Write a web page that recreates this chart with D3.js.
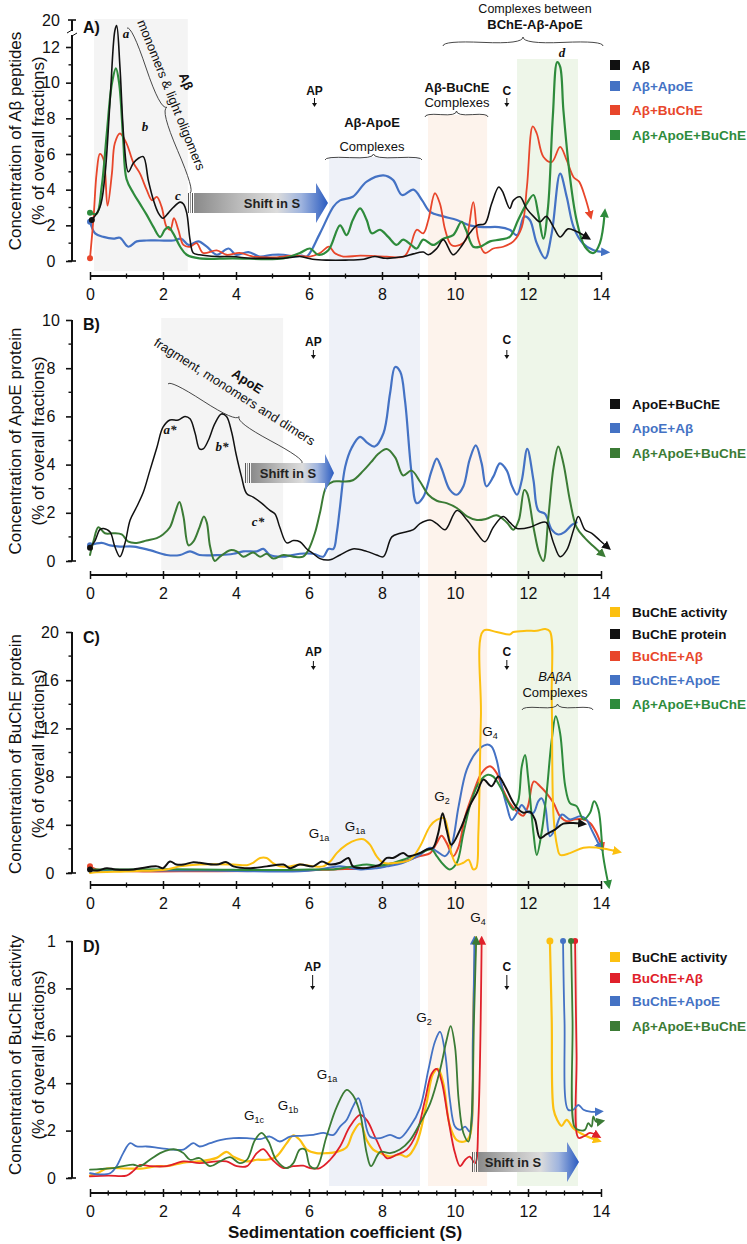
<!DOCTYPE html>
<html><head><meta charset="utf-8">
<script src="https://cdn.jsdelivr.net/npm/d3@7"></script>
<style>body{margin:0;background:#fff}svg{display:block}text{font-family:"Liberation Sans",Arial,sans-serif}</style>
</head><body><svg id="c" width="747" height="1244"></svg>
<script>
// ---------------- DATA ----------------
const xTicks = [0,2,4,6,8,10,12,14];
const aTicks = [0,2,4,6,8,10,12];
const bTicks = [0,2,4,6,8,10];
const cTicks = [0,4,8,12,16,20];
const dTicks = [0,0.2,0.4,0.6,0.8,1];
const dTickLabels = ["0",".2",".4",".6",".8","1"];

// Panel A: concentration of Aβ peptides
const aAbeta = [[0.05,2.3],[0.27,3.0],[0.4,4.6],[0.55,9.0],[0.68,12.9],[0.73,13.2],[0.82,10.9],[0.93,6.8],[1.05,5.0],[1.19,5.5],[1.32,5.75],[1.46,5.85],[1.6,4.5],[1.74,3.4],[1.87,2.7],[2.0,2.4],[2.15,2.7],[2.28,3.0],[2.47,3.3],[2.56,3.2],[2.65,2.7],[2.74,1.2],[2.83,0.45],[3.0,0.35],[3.47,0.25],[3.9,0.25],[4.4,0.15],[4.8,0.15],[5.3,0.15],[5.75,0.25],[6.1,0.1],[6.5,0.05],[7.0,0.05],[7.5,0.1],[7.8,0.25],[8.1,0.15],[8.6,0.25],[8.86,0.4],[9.13,0.5],[9.27,0.35],[9.5,0.7],[9.68,1.2],[9.95,0.35],[10.2,0.9],[10.4,1.55],[10.6,2.0],[10.82,2.1],[11.0,3.2],[11.2,4.15],[11.3,3.9],[11.5,2.95],[11.6,3.4],[11.78,3.6],[11.96,2.95],[12.15,2.5],[12.33,2.2],[12.5,2.5],[12.7,1.9],[12.88,1.35],[13.1,1.8],[13.33,1.65],[13.6,1.35]];
const aAbetaApoE = [[0,2.2],[0.14,1.55],[0.37,1.35],[0.64,1.25],[0.82,1.3],[1.05,0.8],[1.28,1.1],[1.55,1.15],[1.9,1.15],[2.28,1.15],[2.5,1.25],[2.7,0.9],[2.97,1.1],[3.2,0.8],[3.47,0.35],[3.8,0.7],[4.0,0.35],[4.34,0.5],[4.65,0.25],[5.0,0.35],[5.3,0.35],[5.57,0.25],[5.8,0.3],[5.94,0.25],[6.3,1.55],[6.67,3.05],[6.85,3.4],[7.2,3.6],[7.58,4.45],[8.04,4.8],[8.3,4.55],[8.55,3.7],[8.86,4.0],[9.1,3.4],[9.32,2.75],[9.68,2.5],[10.05,2.3],[10.4,2.0],[10.77,1.9],[11.2,1.9],[11.5,1.75],[11.7,1.45],[11.9,2.5],[12.05,2.3],[12.24,1.0],[12.47,0.15],[12.65,1.55],[12.88,4.9],[13.06,3.6],[13.25,1.9],[13.5,1.0],[13.8,0.6],[14.1,0.5]];
const aAbetaBuChE = [[0,0.15],[0.1,2.5],[0.18,4.9],[0.27,6.0],[0.37,5.7],[0.48,3.1],[0.6,4.9],[0.68,6.6],[0.82,7.15],[1.0,6.6],[1.19,5.5],[1.37,4.9],[1.55,4.0],[1.7,3.4],[1.83,3.6],[1.96,3.05],[2.1,1.9],[2.2,1.75],[2.3,2.4],[2.42,1.75],[2.56,0.9],[2.74,0.8],[2.92,1.0],[3.1,0.45],[3.47,0.6],[3.74,0.35],[4.1,0.45],[4.47,0.25],[5.0,0.2],[5.57,0.3],[6.03,0.25],[6.3,0.45],[6.55,0.8],[6.7,0.45],[6.94,0.25],[7.4,0.3],[8.13,0.25],[8.6,0.25],[8.77,0.8],[8.95,1.75],[9.13,1.55],[9.27,2.3],[9.45,3.8],[9.59,3.2],[9.73,1.75],[9.9,0.9],[10.14,0.9],[10.3,1.2],[10.5,3.3],[10.64,1.2],[10.82,0.45],[11.05,0.7],[11.32,0.8],[11.6,1.1],[11.83,1.9],[11.97,4.15],[12.13,7.55],[12.24,7.15],[12.42,5.85],[12.65,5.55],[12.88,6.4],[13.06,5.65],[13.25,4.7],[13.4,4.45],[13.56,3.6],[13.7,2.6]];
const aAll = [[0,2.7],[0.18,2.65],[0.32,4.15],[0.46,7.15],[0.6,9.95],[0.71,10.8],[0.8,9.95],[0.91,6.8],[1.0,4.6],[1.19,3.8],[1.37,3.2],[1.55,2.6],[1.74,1.9],[1.92,1.35],[2.05,1.75],[2.15,1.9],[2.28,1.55],[2.47,0.8],[2.65,0.35],[3.0,0.15],[3.9,0.15],[5.3,0.15],[5.75,0.45],[6.03,0.7],[6.25,0.35],[6.53,0.6],[6.85,2.0],[7.03,1.45],[7.2,2.3],[7.4,2.95],[7.58,2.3],[7.72,1.55],[7.95,1.75],[8.17,1.35],[8.4,0.9],[8.58,1.2],[8.8,0.9],[8.95,0.7],[9.13,1.2],[9.4,0.9],[9.68,1.25],[9.95,1.45],[10.18,2.2],[10.3,1.75],[10.5,0.8],[10.68,0.8],[10.96,1.1],[11.23,1.2],[11.5,1.35],[11.73,2.3],[11.96,3.2],[12.15,3.7],[12.28,2.65],[12.42,1.25],[12.55,3.05],[12.68,8.1],[12.8,11.15],[12.88,10.9],[12.97,8.45],[13.15,4.7],[13.33,2.3],[13.56,0.8],[13.8,0.45],[13.97,1.0],[14.1,2.65]];

// Panel B: concentration of ApoE protein
const bApoEBuChE = [[0,0.55],[0.14,0.85],[0.27,1.3],[0.37,1.35],[0.55,1.2],[0.68,0.6],[0.82,0.18],[0.96,0.75],[1.1,1.7],[1.28,2.25],[1.46,2.85],[1.64,3.75],[1.83,4.7],[2.0,5.55],[2.19,5.85],[2.42,5.85],[2.6,6.0],[2.74,5.9],[2.88,5.3],[3.0,4.65],[3.1,4.65],[3.24,5.0],[3.42,5.7],[3.6,6.1],[3.74,6.0],[3.88,5.35],[4.0,4.45],[4.15,3.5],[4.29,2.8],[4.47,2.65],[4.7,2.4],[4.93,2.1],[5.07,1.95],[5.2,1.4],[5.39,0.75],[5.57,0.85],[5.75,0.8],[5.94,0.5],[6.12,0.3],[6.3,0.1],[6.58,0.05],[6.85,0.25],[7.2,0.5],[7.58,0.4],[7.85,0.25],[8.04,0.18],[8.27,1.0],[8.5,1.15],[8.86,1.3],[9.04,1.55],[9.32,1.7],[9.5,1.55],[9.73,1.3],[10.05,2.1],[10.33,1.7],[10.6,1.15],[10.82,0.8],[11.05,1.4],[11.32,1.85],[11.5,1.6],[11.7,1.35],[12.05,1.4],[12.37,1.6],[12.5,1.6],[12.7,0.75],[12.88,0.18],[13.06,0.45],[13.25,1.3],[13.38,1.85],[13.56,1.3],[13.75,1.15],[13.97,0.85],[14.16,0.6]];
const bApoEAbeta = [[0,0.65],[0.32,0.75],[0.55,0.65],[0.82,0.6],[1.19,0.6],[1.64,0.45],[2.1,0.25],[2.47,0.25],[2.74,0.4],[3.0,0.25],[3.56,0.25],[3.93,0.3],[4.2,0.4],[4.57,0.4],[4.75,0.5],[4.93,0.25],[5.3,0.18],[5.75,0.3],[6.12,0.3],[6.39,0.18],[6.53,0.5],[6.67,0.5],[6.76,1.15],[6.85,2.25],[6.99,3.9],[7.17,4.7],[7.4,5.15],[7.6,4.9],[7.8,4.75],[8.04,5.3],[8.22,6.95],[8.36,8.05],[8.5,7.85],[8.63,6.65],[8.81,3.65],[8.95,2.4],[9.13,2.65],[9.36,3.75],[9.5,4.25],[9.63,3.85],[9.86,2.95],[10.05,2.75],[10.23,3.1],[10.4,4.2],[10.57,4.8],[10.73,4.05],[10.86,3.1],[11.05,3.5],[11.23,4.05],[11.42,3.75],[11.55,3.15],[11.7,2.75],[11.83,3.35],[11.98,4.65],[12.15,3.35],[12.28,2.1],[12.47,1.95],[12.65,1.3],[12.83,1.1],[13.0,1.2],[13.2,1.5],[13.33,1.6]];
const bAll = [[0,0.25],[0.1,0.85],[0.23,1.4],[0.41,1.15],[0.64,1.15],[0.87,1.1],[1.05,0.8],[1.28,0.75],[1.55,0.85],[1.83,0.95],[2.0,1.1],[2.19,1.4],[2.33,2.0],[2.45,2.45],[2.56,1.85],[2.7,0.65],[2.83,0.8],[3.0,1.4],[3.12,1.85],[3.2,1.6],[3.29,0.6],[3.42,0.0],[3.56,0.18],[3.84,0.45],[4.02,0.4],[4.2,0.18],[4.47,0.35],[4.66,0.18],[4.84,0.3],[5.02,0.1],[5.3,0.25],[5.57,0.18],[5.84,0.18],[5.98,0.45],[6.16,1.15],[6.3,2.0],[6.48,3.1],[6.67,3.3],[6.94,3.3],[7.2,3.35],[7.49,3.75],[7.7,4.1],[7.9,4.45],[8.13,4.65],[8.36,4.3],[8.58,3.55],[8.81,3.75],[9.04,3.3],[9.27,2.75],[9.5,2.5],[9.77,2.4],[10.05,2.2],[10.33,1.85],[10.6,1.7],[10.86,1.75],[11.14,1.9],[11.42,1.6],[11.6,1.3],[11.75,1.7],[11.9,2.95],[11.98,2.8],[12.15,1.4],[12.31,0.3],[12.42,0.0],[12.56,1.85],[12.7,3.9],[12.83,4.75],[12.97,4.05],[13.15,2.5],[13.33,1.4],[13.56,0.95],[13.8,0.6],[14.02,0.3]];

// Panel C: concentration of BuChE protein
const cActivity = [[0,0],[0.1,0.05],[1.19,0.15],[2.1,0.3],[2.47,0.55],[3.0,0.7],[3.93,0.7],[4.3,0.65],[4.47,0.85],[4.66,1.25],[4.84,1.25],[5.0,0.85],[5.2,0.55],[5.48,0.55],[5.75,0.7],[6.12,0.55],[6.39,0.55],[6.58,0.95],[6.76,1.65],[7.03,2.35],[7.3,2.75],[7.49,2.8],[7.67,2.35],[7.85,1.4],[8.04,0.85],[8.4,0.85],[8.77,1.1],[9.04,2.2],[9.32,3.9],[9.5,4.4],[9.7,4.55],[9.82,3.3],[9.9,1.65],[10.05,0.7],[10.23,0.85],[10.37,1.1],[10.5,0.3],[10.58,0.4],[10.64,3.3],[10.71,13.0],[10.78,20.1],[11.14,20.0],[11.5,19.8],[11.6,20.0],[11.96,20.1],[12.24,20.1],[12.47,20.25],[12.6,20.05],[12.65,14.4],[12.7,4.7],[12.8,2.2],[12.88,1.5],[13.15,1.65],[13.52,2.1],[13.9,2.1],[14.2,1.95],[14.43,1.8]];
const cProtein = [[0,0.3],[0.2,0.2],[0.46,0.4],[0.7,0.3],[1.19,0.3],[1.83,0.55],[2.0,0.4],[2.19,0.95],[2.37,0.7],[2.56,0.7],[2.83,0.9],[3.0,0.85],[3.47,0.7],[3.74,0.9],[3.93,0.55],[4.4,0.4],[4.84,0.55],[5.3,0.7],[5.48,0.4],[5.75,0.7],[6.12,0.55],[6.35,0.95],[6.58,0.7],[6.85,0.85],[7.08,1.25],[7.2,0.55],[7.49,0.4],[7.8,0.55],[7.95,0.7],[8.13,1.25],[8.3,1.25],[8.58,1.65],[8.72,1.4],[9.04,1.65],[9.22,1.95],[9.4,2.1],[9.54,3.3],[9.66,4.95],[9.77,3.6],[9.9,2.35],[10.14,3.6],[10.4,5.55],[10.6,6.65],[10.78,7.75],[11.0,7.2],[11.19,8.0],[11.37,7.2],[11.55,6.1],[11.7,5.4],[11.87,5.0],[12.05,5.1],[12.19,4.45],[12.33,2.9],[12.5,3.2],[12.74,3.6],[12.97,4.1],[13.24,4.15],[13.47,4.1]];
const cAbeta = [[0,0.55],[0.18,0.3],[1.2,0.15],[3.0,0.15],[5.75,0.2],[6.67,0.3],[7.58,0.4],[7.9,0.55],[8.13,0.7],[8.58,0.95],[9.04,1.4],[9.32,1.65],[9.5,2.5],[9.63,3.1],[9.77,2.5],[9.95,1.4],[10.1,2.2],[10.28,4.7],[10.5,6.65],[10.73,8.3],[10.96,8.85],[11.14,8.3],[11.32,6.9],[11.5,5.8],[11.7,5.1],[11.87,4.75],[12.0,5.55],[12.16,7.6],[12.33,7.2],[12.5,6.65],[12.7,5.8],[12.88,4.7],[13.06,4.3],[13.29,4.45],[13.52,4.45],[13.7,4.15],[13.88,3.3],[14.02,2.2]];
const cApoE = [[0,0.15],[1.0,0.2],[3.0,0.2],[5.75,0.15],[6.3,0.3],[6.85,0.55],[7.4,0.3],[7.85,0.4],[8.13,0.55],[8.58,0.85],[9.04,1.5],[9.32,2.1],[9.5,1.8],[9.73,1.4],[9.9,2.2],[10.1,5.55],[10.32,8.55],[10.6,10.1],[10.86,10.65],[11.0,10.5],[11.14,9.4],[11.28,7.2],[11.42,5.55],[11.55,4.4],[11.7,5.0],[11.83,5.65],[11.98,5.1],[12.15,5.0],[12.28,5.95],[12.37,6.2],[12.47,5.55],[12.6,3.05],[12.74,3.6],[12.93,4.85],[13.15,4.45],[13.43,4.7],[13.6,4.45],[13.74,3.6],[13.97,2.2]];
const cAll = [[0,0.3],[1.0,0.3],[3.0,0.3],[5.0,0.25],[6.0,0.3],[6.67,0.3],[7.2,0.55],[7.58,0.7],[7.9,0.6],[8.13,0.7],[8.58,1.1],[9.04,1.65],[9.36,1.95],[9.5,1.4],[9.68,0.7],[9.86,0.3],[10.05,0.85],[10.23,3.3],[10.46,6.1],[10.68,7.6],[10.9,8.15],[11.05,8.0],[11.23,7.2],[11.42,6.1],[11.6,5.25],[11.73,5.95],[11.83,8.85],[11.92,9.8],[12.0,8.0],[12.15,3.3],[12.24,1.5],[12.37,3.3],[12.5,6.35],[12.65,11.05],[12.76,13.0],[12.88,11.6],[13.02,7.2],[13.15,5.8],[13.33,5.55],[13.52,4.45],[13.7,5.0],[13.81,5.95],[13.93,5.25],[14.06,1.4],[14.2,-0.9]];

// Panel D: concentration of BuChE activity (two segments each)
const dActivity1 = [[0,0.01],[0.2,0.02],[0.46,0.04],[1.0,0.04],[1.46,0.04],[1.83,0.05],[2.1,0.05],[2.56,0.065],[3.0,0.07],[3.47,0.085],[3.74,0.11],[3.93,0.09],[4.3,0.07],[4.57,0.077],[4.84,0.077],[5.1,0.09],[5.39,0.147],[5.57,0.18],[5.75,0.16],[5.94,0.12],[6.2,0.105],[6.48,0.105],[6.76,0.11],[7.03,0.13],[7.2,0.19],[7.4,0.23],[7.58,0.16],[7.76,0.12],[7.95,0.105],[8.22,0.09],[8.49,0.1],[8.68,0.09],[8.95,0.147],[9.22,0.315],[9.4,0.44],[9.54,0.46],[9.68,0.40],[9.86,0.22],[10.05,0.16],[10.28,0.155],[10.4,0.175],[10.5,0.695],[10.56,1.0]];
const dActivity2 = [[12.6,1.0],[12.65,0.67],[12.7,0.29],[12.8,0.245],[12.92,0.22],[13.06,0.245],[13.24,0.21],[13.43,0.19],[13.7,0.17],[13.88,0.16]];
const dAbeta1 = [[0,0.007],[0.5,0.01],[1.0,0.01],[1.19,0.03],[1.37,0.055],[1.64,0.05],[2.1,0.05],[2.56,0.07],[3.0,0.063],[3.47,0.07],[3.74,0.07],[4.02,0.05],[4.3,0.05],[4.57,0.105],[4.75,0.122],[5.0,0.077],[5.3,0.042],[5.57,0.05],[5.84,0.052],[6.03,0.042],[6.3,0.042],[6.58,0.077],[6.85,0.133],[7.12,0.217],[7.4,0.266],[7.58,0.245],[7.85,0.16],[8.13,0.084],[8.4,0.098],[8.68,0.12],[8.95,0.19],[9.18,0.33],[9.36,0.44],[9.5,0.46],[9.63,0.41],[9.82,0.245],[10.0,0.105],[10.14,0.05],[10.28,0.077],[10.4,0.09],[10.55,0.063],[10.64,0.245],[10.73,1.0]];
const dAbeta2 = [[13.29,1.0],[13.33,0.525],[13.38,0.17],[13.52,0.175],[13.7,0.19],[13.88,0.18]];
const dApoE1 = [[0,0.02],[0.27,0.015],[0.55,0.02],[0.73,0.05],[0.91,0.105],[1.1,0.147],[1.28,0.133],[1.55,0.133],[1.92,0.126],[2.28,0.12],[2.56,0.12],[2.83,0.147],[3.0,0.133],[3.29,0.147],[3.56,0.16],[3.93,0.168],[4.3,0.168],[4.66,0.164],[4.93,0.175],[5.2,0.154],[5.48,0.175],[5.75,0.178],[6.12,0.182],[6.39,0.19],[6.67,0.182],[6.85,0.217],[7.03,0.245],[7.2,0.30],[7.35,0.337],[7.49,0.273],[7.67,0.175],[7.95,0.168],[8.22,0.182],[8.49,0.168],[8.77,0.217],[9.04,0.295],[9.27,0.456],[9.45,0.575],[9.59,0.617],[9.73,0.526],[9.86,0.33],[10.0,0.217],[10.14,0.203],[10.28,0.217],[10.4,0.196],[10.49,0.596],[10.53,1.0]];
const dApoE2 = [[12.96,1.0],[13.0,0.666],[13.1,0.288],[13.24,0.288],[13.38,0.308],[13.52,0.288],[13.7,0.28],[13.93,0.28]];
const dAll1 = [[0,0.035],[0.3,0.038],[0.64,0.042],[0.91,0.05],[1.19,0.056],[1.37,0.05],[1.64,0.077],[1.92,0.105],[2.19,0.12],[2.37,0.12],[2.56,0.105],[2.74,0.077],[3.0,0.084],[3.29,0.05],[3.56,0.07],[3.84,0.088],[4.1,0.063],[4.3,0.077],[4.52,0.16],[4.7,0.19],[4.89,0.154],[5.1,0.077],[5.39,0.042],[5.57,0.063],[5.75,0.12],[5.89,0.12],[6.03,0.05],[6.2,0.042],[6.48,0.175],[6.76,0.30],[7.03,0.372],[7.2,0.35],[7.4,0.273],[7.58,0.105],[7.7,0.05],[7.95,0.11],[8.22,0.105],[8.49,0.12],[8.77,0.16],[9.04,0.23],[9.32,0.315],[9.59,0.456],[9.77,0.582],[9.88,0.641],[10.0,0.554],[10.1,0.33],[10.23,0.19],[10.37,0.154],[10.45,0.245],[10.52,0.666],[10.58,1.0]];
const dAll2 = [[13.18,1.0],[13.22,0.666],[13.27,0.217],[13.38,0.203],[13.56,0.203],[13.65,0.231],[13.74,0.217],[13.79,0.26],[13.86,0.238],[13.97,0.238]];

// shaded sedimentation ranges (S units)
const bandRanges = [[6.55,9.04],[9.26,10.88],[11.7,13.37]];

// ---------------- STYLE ----------------
const COL = {black:"#111", blue:"#4472c4", red:"#e8462b", green:"#2e8b3c", dgreen:"#3b7b35", yellow:"#fcc010", crimson:"#e0202a"};

const svg = d3.select("#c");
const defs = svg.append("defs");
const grad = defs.append("linearGradient").attr("id","shift").attr("x1",0).attr("x2",1).attr("y1",0).attr("y2",0);
[[0,"#8a8a8a"],[0.35,"#bdbdbd"],[0.62,"#dcdcdc"],[0.8,"#9fb4de"],[1,"#2a5bc0"]].forEach(([o,c])=>grad.append("stop").attr("offset",o).attr("stop-color",c));
Object.entries(COL).forEach(([k,c])=>{
  defs.append("marker").attr("id","arr-"+k).attr("viewBox","0 0 10 10").attr("refX",4).attr("refY",5)
    .attr("markerWidth",9).attr("markerHeight",9).attr("markerUnits","userSpaceOnUse").attr("orient","auto")
    .append("path").attr("d","M0,0 L10,5 L0,10 z").attr("fill",c);
});

const x = d3.scaleLinear().domain([0,14]).range([90,601]);
const yA = d3.scaleLinear().domain([0,12]).range([261,47]);
const yB = d3.scaleLinear().domain([0,10]).range([561,320]);
const yC = d3.scaleLinear().domain([0,20]).range([873,632]);
const yD = d3.scaleLinear().domain([0,1]).range([1178,941]);

// ---------------- BACKGROUND BANDS ----------------
const bg = svg.append("g");
bg.append("rect").attr("x",x(0.11)).attr("width",x(2.68)-x(0.11)).attr("y",19).attr("height",252).attr("fill","#f4f4f4");
bg.append("rect").attr("x",x(1.95)).attr("width",x(5.29)-x(1.95)).attr("y",318).attr("height",252).attr("fill","#f4f4f4");
const bandFill = ["#eef1f8","#fdf3ec","#eef6e9"];
const bandTop = [157,115,59];
bandRanges.forEach((r,i)=>bg.append("rect").attr("x",x(r[0])).attr("width",x(r[1])-x(r[0]))
  .attr("y",bandTop[i]).attr("height",1186-bandTop[i]).attr("fill",bandFill[i]));

// ---------------- HELPERS ----------------
function bracePath(x1,y1,x2,y2,w,q=0.6){
  const dx=x2-x1, dy=y2-y1, len=Math.hypot(dx,dy), nx=dy/len, ny=-dx/len;
  const P=(t,k)=>[x1+dx*t+nx*w*k, y1+dy*t+ny*w*k];
  const f=p=>p[0].toFixed(1)+","+p[1].toFixed(1);
  return "M"+f(P(0,0))+" Q"+f(P(0,q))+" "+f(P(0.25,1-q))+" T"+f(P(0.5,1))+
         " M"+f(P(1,0))+" Q"+f(P(1,q))+" "+f(P(0.75,1-q))+" T"+f(P(0.5,1));
}
function brace(x1,y1,x2,y2,w){ svg.append("path").attr("d",bracePath(x1,y1,x2,y2,w)).attr("fill","none").attr("stroke","#333").attr("stroke-width",0.9); }
function txt(s,xx,yy,opt={}){
  const t=svg.append("text").attr("x",xx).attr("y",yy).attr("text-anchor",opt.anchor||"middle")
    .attr("font-size",opt.size||13).attr("font-weight",opt.bold?"bold":"normal").attr("fill",opt.fill||"#111").text(s);
  if(opt.italic) t.attr("font-style","italic");
  if(opt.serif) t.style("font-family","'Liberation Serif','Times New Roman',serif");
  if(opt.rot!=null) t.attr("transform",`rotate(${opt.rot},${xx},${yy})`);
  return t;
}
function gLabel(sub,xx,yy){
  const t=svg.append("text").attr("x",xx).attr("y",yy).attr("text-anchor","middle").attr("font-size",13.5).attr("fill","#111");
  t.append("tspan").text("G");
  t.append("tspan").attr("font-size",9).attr("dy",3).text(sub);
}
function downArrow(label,xx,ty,a1,a2){
  txt(label,xx,ty,{bold:true,size:12});
  svg.append("line").attr("x1",xx).attr("x2",xx).attr("y1",a1).attr("y2",a2-3).attr("stroke","#111").attr("stroke-width",1);
  svg.append("path").attr("d",`M${xx-2.5},${a2-4} L${xx+2.5},${a2-4} L${xx},${a2} z`).attr("fill","#111");
}
function shiftArrow(xL,xH,xT,yc,bh,hh,tx){
  svg.append("path").attr("d",`M${xL},${yc-bh/2} L${xH},${yc-bh/2} L${xH},${yc-hh/2} L${xT},${yc} L${xH},${yc+hh/2} L${xH},${yc+bh/2} L${xL},${yc+bh/2} Z`).attr("fill","url(#shift)");
  [xL-5.5,xL-3.5,xL-1.5].forEach((lx,i)=>svg.append("line").attr("x1",lx).attr("x2",lx).attr("y1",yc-bh/2).attr("y2",yc+bh/2).attr("stroke",i==1?"#999":"#555").attr("stroke-width",1));
  txt("Shift in S",tx,yc+4.5,{bold:true,size:13,fill:"#222"});
}
function series(data,y,color,width,opts={}){
  const line=d3.line().x(d=>x(d[0])).y(d=>y(d[1])).curve(d3.curveCatmullRom.alpha(0.5));
  const p=svg.append("path").datum(data).attr("d",line).attr("fill","none").attr("stroke",COL[color]).attr("stroke-width",width).attr("stroke-linejoin","round").attr("stroke-linecap","round");
  if(opts.arrow) p.attr("marker-end",`url(#arr-${color})`);
  if(opts.dot) svg.append("circle").attr("cx",x(data[0][0])).attr("cy",y(data[0][1])).attr("r",opts.dot).attr("fill",COL[color]);
}
function yAxis(y,ticks,labels,minor,top,labelX,anchor){
  const g=svg.append("g").attr("transform","translate(72,0)");
  const ax=d3.axisLeft(y).tickValues(ticks).tickFormat((d,i)=>labels?labels[i]:d).tickSize(6).tickSizeOuter(0).tickPadding(0);
  g.call(ax);
  g.select(".domain").remove();
  g.selectAll(".tick line").attr("stroke","#111").attr("stroke-width",1.6);
  g.selectAll(".tick text").attr("x",labelX-72).attr("text-anchor",anchor).attr("font-size",16).attr("fill","#111").style("font-family","'Liberation Sans',Arial,sans-serif");
  minor.forEach(v=>g.append("line").attr("x1",-3.5).attr("x2",0).attr("y1",y(v)).attr("y2",y(v)).attr("stroke","#111").attr("stroke-width",1.4));
  g.append("line").attr("x1",0).attr("x2",0).attr("y1",top).attr("y2",y(0)).attr("stroke","#111").attr("stroke-width",2);
  g.append("line").attr("x1",-4).attr("x2",4).attr("y1",y(0)).attr("y2",y(0)).attr("stroke","#111").attr("stroke-width",1.6);
  return g;
}
function xAxis(yy,minorStep){
  const g=svg.append("g").attr("transform",`translate(0,${yy})`);
  g.call(d3.axisBottom(x).tickValues(xTicks).tickSize(4).tickSizeOuter(0).tickPadding(9));
  g.select(".domain").remove();
  g.selectAll(".tick line").attr("y1",-4).attr("stroke","#111").attr("stroke-width",1.5);
  g.selectAll(".tick text").attr("font-size",16).attr("fill","#111").style("font-family","'Liberation Sans',Arial,sans-serif");
  g.append("line").attr("x1",x(0)).attr("x2",x(14)).attr("stroke","#111").attr("stroke-width",1.8);
  d3.range(0,14.001,minorStep).filter(v=>Math.abs(v%2)>1e-6).forEach(v=>
    g.append("line").attr("x1",x(v)).attr("x2",x(v)).attr("y1",-2.5).attr("y2",2.5).attr("stroke","#111").attr("stroke-width",1.3));
}
function yTitle(l1,l2,cy){
  txt(l1,21,cy,{size:17,rot:-90});
  txt(l2,44,cy,{size:17,rot:-90});
}
function legend(items,ys){
  items.forEach((it,i)=>{
    svg.append("rect").attr("x",610).attr("y",ys[i]-5).attr("width",10).attr("height",10).attr("fill",COL[it[1]]);
    txt(it[0],632,ys[i]+5,{anchor:"start",bold:true,size:13.5,fill:it[2]?COL[it[2]]:COL[it[1]]});
  });
}

// ---------------- PANEL A ----------------
yAxis(yA,aTicks,null,[1,3,5,7,9,11],20,51,"middle");
txt("20",51,25.5,{size:16});
svg.append("line").attr("x1",68).attr("x2",76).attr("y1",20).attr("y2",20).attr("stroke","#111").attr("stroke-width",1.6);
svg.append("rect").attr("x",69).attr("y",31).attr("width",6).attr("height",4).attr("fill","#fff");
svg.append("path").attr("d","M67,33 L72,30 M72,36 L77,33").attr("stroke","#111").attr("stroke-width",1);
xAxis(276,1);
yTitle("Concentration of Aβ peptides","(% of overall fractions)",141);
txt("A)",83,33,{anchor:"start",bold:true,size:16});
series(aAbetaApoE,yA,"blue",2.2,{arrow:true,dot:3});
series(aAbetaBuChE,yA,"red",1.8,{arrow:true,dot:3});
series(aAll,yA,"green",2.2,{arrow:true,dot:3});
series(aAbeta,yA,"black",1.6,{arrow:true,dot:3});
legend([["Aβ","black"],["Aβ+ApoE","blue"],["Aβ+BuChE","red"],["Aβ+ApoE+BuChE","green"]],[65,86,110,135]);
downArrow("AP",x(6.15),95,98,107);
downArrow("C",x(11.42),95,98,107);
brace(127,28,190,193,9);
txt("monomers & light oligomers",137,22,{anchor:"start",size:13,rot:68});
txt("Aβ",182,83,{bold:true,size:13,rot:68});
txt("a",126,38,{italic:true,bold:true,serif:true,size:13});
txt("b",145,131,{italic:true,bold:true,serif:true,size:13});
txt("c",178,200,{italic:true,bold:true,serif:true,size:13});
txt("d",562,57,{italic:true,bold:true,serif:true,size:13});
shiftArrow(194,316,328,203,20,40,272);
txt("Complexes between",535,13,{size:12.5});
txt("BChE-Aβ-ApoE",535,29,{bold:true,size:13});
brace(443,46,603,46,9);
txt("Aβ-BuChE",457,92,{bold:true,size:13});
txt("Complexes",457,107,{size:13});
brace(425,117,488,117,6);
txt("Aβ-ApoE",372,127,{bold:true,size:13});
txt("Complexes",372,151,{size:13});
brace(325,160,422,160,6);

// ---------------- PANEL B ----------------
yAxis(yB,bTicks,null,[1,3,5,7,9],320,51,"middle");
xAxis(575,1);
yTitle("Concentration of ApoE protein","(% of overall fractions)",441);
txt("B)",83,330,{anchor:"start",bold:true,size:16});
series(bApoEAbeta,yB,"blue",2.2,{dot:3});
series(bAll,yB,"dgreen",2.0,{arrow:true});
series(bApoEBuChE,yB,"black",1.5,{arrow:true,dot:3});
legend([["ApoE+BuChE","black"],["ApoE+Aβ","blue"],["Aβ+ApoE+BuChE","dgreen"]],[404,428,453]);
downArrow("AP",x(6.12),346,350,359);
downArrow("C",x(11.42),344,350,359);
brace(168,384,302,463,8);
txt("fragment, monomers and dimers",153,345,{anchor:"start",size:13,rot:32.5});
txt("ApoE",245,385,{bold:true,size:13,rot:32.5});
txt("a*",170,434,{italic:true,bold:true,serif:true,size:13});
txt("b*",222,451,{italic:true,bold:true,serif:true,size:13});
txt("c*",258,526,{italic:true,bold:true,serif:true,size:13});
shiftArrow(251,325,334,473,20,38,288);

// ---------------- PANEL C ----------------
yAxis(yC,cTicks,null,[2,6,10,14,18],632,50,"middle");
xAxis(885,1);
yTitle("Concentration of BuChE protein","(% of overall fractions)",754);
txt("C)",83,643,{anchor:"start",bold:true,size:16});
series(cAbeta,yC,"red",2.0,{arrow:true,dot:3});
series(cApoE,yC,"blue",2.0,{arrow:true});
series(cAll,yC,"green",2.0,{arrow:true});
series(cActivity,yC,"yellow",2.0,{arrow:true});
series(cProtein,yC,"black",2.0,{arrow:true,dot:3});
legend([["BuChE activity","yellow","black"],["BuChE protein","black"],["BuChE+Aβ","red"],["BuChE+ApoE","blue"],["Aβ+ApoE+BuChE","green"]],[612,634,656,680,704]);
downArrow("AP",x(6.12),656,661,670);
downArrow("C",x(11.42),656,660,670);
gLabel("1a",319,838); gLabel("1a",355,831); gLabel("2",442,801); gLabel("4",490,736);
txt("BAβA",555,681,{italic:true,size:13});
txt("Complexes",555,697,{size:13});
brace(522,710,593,710,6);

// ---------------- PANEL D ----------------
yAxis(yD,dTicks,dTickLabels,[],941,56,"end");
xAxis(1193,0.5);
yTitle("Concentration of BuChE activity","(% of overall fractions)",1055);
txt("D)",83,952,{anchor:"start",bold:true,size:16});
series(dActivity1,yD,"yellow",2.2,{arrow:true});
series(dActivity2,yD,"yellow",2.2,{arrow:true,dot:3.5});
series(dAbeta1,yD,"crimson",1.8,{arrow:true});
series(dAbeta2,yD,"crimson",1.8,{arrow:true,dot:3});
series(dApoE1,yD,"blue",1.8,{arrow:true});
series(dApoE2,yD,"blue",1.8,{arrow:true,dot:3});
series(dAll1,yD,"dgreen",1.8,{arrow:true});
series(dAll2,yD,"dgreen",1.8,{arrow:true,dot:3});
legend([["BuChE activity","yellow","black"],["BuChE+Aβ","crimson"],["BuChE+ApoE","blue"],["Aβ+ApoE+BuChE","dgreen"]],[957,978,1001,1026]);
downArrow("AP",x(6.1),971,975,990);
downArrow("C",x(11.42),971,975,990);
gLabel("1c",254,1120); gLabel("1b",288,1110); gLabel("1a",327,1079); gLabel("2",424,1022); gLabel("4",478,922);
shiftArrow(478,567,579,1162,20,40,513);
txt("Sedimentation coefficient (S)",345,1238,{bold:true,size:17});
</script></body></html>
